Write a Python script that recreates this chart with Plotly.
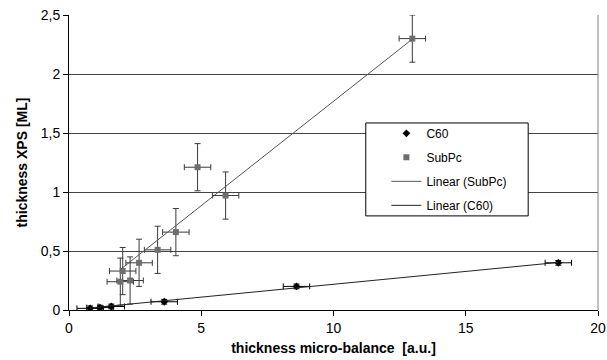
import numpy as np
import plotly.graph_objects as go

# ---- data ----
c60_x = [0.8, 1.17, 1.6, 3.6, 8.6, 18.5]
c60_y = [0.014, 0.02, 0.03, 0.07, 0.20, 0.40]
c60_xerr = [0.5, 0.5, 0.5, 0.5, 0.5, 0.5]
c60_yerr = [0.02, 0.02, 0.02, 0.02, 0.02, 0.02]

subpc_x = [1.94, 2.03, 2.31, 2.65, 3.35, 4.04, 4.86, 5.92, 12.98]
subpc_y = [0.24, 0.33, 0.25, 0.40, 0.51, 0.66, 1.21, 0.97, 2.30]
subpc_xerr = [0.5] * 9
subpc_yerr = [0.2] * 9

x_ticks = [0, 5, 10, 15, 20]
y_ticks = [0, 0.5, 1, 1.5, 2, 2.5]
y_ticklabels = ["0", "0,5", "1", "1,5", "2", "2,5"]


def fit_origin(xs, ys):
    xs = np.asarray(xs, float)
    ys = np.asarray(ys, float)
    k = float(np.sum(xs * ys) / np.sum(xs * xs))
    xl = np.array([xs.min(), xs.max()])
    return xl, k * xl


sub_lx, sub_ly = fit_origin(subpc_x, subpc_y)
c60_lx, c60_ly = fit_origin(c60_x, c60_y)

FONT = "Liberation Sans, Arial, sans-serif"

fig = go.Figure()
fig.add_trace(go.Scatter(
    x=c60_x, y=c60_y, mode="markers", name="C60", legendgroup="a",
    marker=dict(symbol="diamond", size=6, color="black"),
    error_x=dict(type="data", array=c60_xerr, color="black", thickness=1, width=3),
    error_y=dict(type="data", array=c60_yerr, color="black", thickness=1, width=3),
))
fig.add_trace(go.Scatter(
    x=subpc_x, y=subpc_y, mode="markers", name="SubPc", legendgroup="b",
    marker=dict(symbol="square", size=6, color="#6e6e6e"),
    error_x=dict(type="data", array=subpc_xerr, color="#3a3a3a", thickness=1, width=3),
    error_y=dict(type="data", array=subpc_yerr, color="#3a3a3a", thickness=1, width=3),
))
fig.add_trace(go.Scatter(
    x=sub_lx, y=sub_ly, mode="lines", name="Linear (SubPc)", legendgroup="c",
    line=dict(color="#555555", width=1),
))
fig.add_trace(go.Scatter(
    x=c60_lx, y=c60_ly, mode="lines", name="Linear (C60)", legendgroup="d",
    line=dict(color="#222222", width=1),
))

fig.update_layout(
    width=607, height=360,
    margin=dict(l=69, r=9, t=15, b=50),
    paper_bgcolor="white", plot_bgcolor="white",
    font=dict(family=FONT, size=14, color="black"),
    showlegend=True,
    legend=dict(
        x=0.600, y=0.648, xanchor="left", yanchor="top",
        borderwidth=0, bgcolor="rgba(0,0,0,0)",
        font=dict(family=FONT, size=12, color="black"),
        itemwidth=30, tracegroupgap=5,
    ),
    xaxis=dict(
        range=[0, 20], tickvals=x_ticks, ticks="outside", ticklen=5,
        tickcolor="black", showline=True, linecolor="black", linewidth=1,
        showgrid=False, zeroline=False, automargin=False,
        tickfont=dict(family=FONT, size=14),
        title=dict(text="thickness micro-balance\u00a0 [a.u.]",
                   font=dict(family=FONT, size=14, weight="bold"), standoff=8),
    ),
    yaxis=dict(
        range=[0, 2.5], tickvals=y_ticks, ticktext=y_ticklabels,
        ticks="outside", ticklen=5, tickcolor="black",
        showline=True, linecolor="black", linewidth=1,
        showgrid=True, gridcolor="#444444", gridwidth=1, zeroline=False,
        automargin=False,
        tickfont=dict(family=FONT, size=14),
        title=dict(text="thickness XPS [ML]",
                   font=dict(family=FONT, size=14, weight="bold"), standoff=9),
    ),
    shapes=[
        dict(type="line", xref="paper", yref="paper", x0=1, x1=1, y0=0, y1=1,
             line=dict(color="#808080", width=1)),
        dict(type="rect", xref="paper", yref="paper", x0=0.561, x1=0.868,
             y0=0.319, y1=0.634, fillcolor="white", layer="above",
             line=dict(color="black", width=1)),
    ],
)

fig.write_html("out.html")
